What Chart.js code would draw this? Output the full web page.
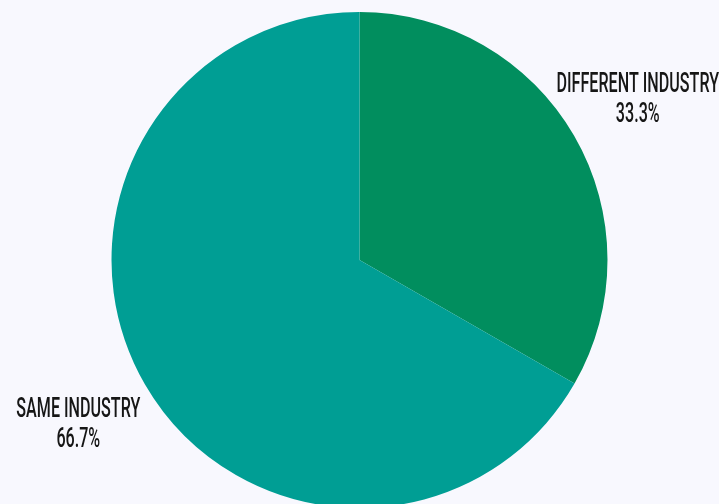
<!DOCTYPE html>
<html><head><meta charset="utf-8">
<script src="https://cdn.jsdelivr.net/npm/chart.js@4"></script>
<style>
html,body{margin:0;padding:0;background:#F8F8FE;overflow:hidden;}
#wrap{width:719px;height:504px;overflow:hidden;}
</style></head>
<body><div id="wrap"><canvas id="c" width="719" height="520"></canvas></div>
<script>
const categories = ["DIFFERENT INDUSTRY", "SAME INDUSTRY"];
const values = [33.3, 66.7];
const valueLabels = ["33.3%", "66.7%"];
const colors = ["#018E5E", "#009E94"];

const labelPlugin = {
  id: 'outLabels',
  afterDatasetsDraw(chart) {
    const ctx = chart.ctx;
    const meta = chart.getDatasetMeta(0);
    const fs = 27;
    const capH = fs * 0.711;
    const sx = 0.597;
    meta.data.forEach((arc, i) => {
      const p = arc.getProps(['x','y','startAngle','endAngle','outerRadius'], true);
      const mid = (p.startAngle + p.endAngle) / 2;
      const r = p.outerRadius * 1.31;
      ctx.save();
      ctx.fillStyle = '#161616';
      ctx.font = '500 ' + fs + 'px Roboto';
      ctx.textAlign = 'center';
      ctx.textBaseline = 'alphabetic';
      const w = Math.max(ctx.measureText(categories[i]).width, ctx.measureText(valueLabels[i]).width) * sx;
      let cx = p.x + Math.cos(mid) * r;
      const cy = p.y + Math.sin(mid) * r;
      cx = Math.min(cx, chart.width - w / 2);
      cx = Math.max(cx, w / 2);
      ctx.translate(cx, cy);
      ctx.scale(sx, 1);
      ctx.fillText(categories[i], 0, -15 + capH / 2);
      ctx.fillText(valueLabels[i], 0, 15 + capH / 2);
      ctx.restore();
    });
  }
};

new Chart(document.getElementById('c'), {
  type: 'pie',
  data: { labels: categories, datasets: [{ data: values, backgroundColor: colors, borderWidth: 0 }] },
  options: {
    responsive: false,
    animation: false,
    layout: { padding: { top: 12, bottom: 12, left: 0, right: 0 } },
    plugins: { legend: { display: false }, tooltip: { enabled: false } }
  },
  plugins: [labelPlugin]
});
</script></body></html>
